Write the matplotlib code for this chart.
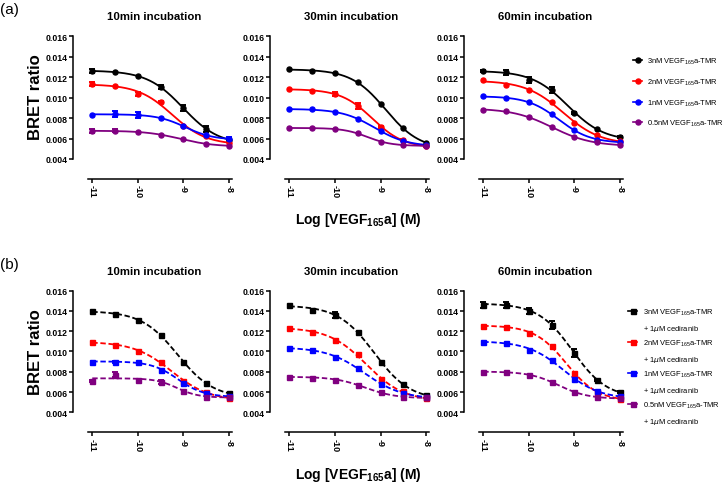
import numpy as np
import matplotlib
matplotlib.use('Agg')
import matplotlib.pyplot as plt
from matplotlib.lines import Line2D

plt.rcParams['font.family'] = ['Liberation Sans', 'DejaVu Sans']
plt.rcParams['mathtext.fontset'] = 'custom'
plt.rcParams['mathtext.rm'] = 'Liberation Sans'
plt.rcParams['mathtext.bf'] = 'Liberation Sans:bold'

W, H = 727, 485

log_conc = np.array([-11, -10.5, -10, -9.5, -9, -8.5, -8])
titles = ['10min incubation', '30min incubation', '60min incubation']
colors = ['black', '#ff0000', '#0000ff', '#800080']
tracer = ['3nM', '2nM', '1nM', '0.5nM']

# (a) tracer alone; rows: 3nM, 2nM, 1nM, 0.5nM
a10 = [[0.01264, 0.01248, 0.01209, 0.01101, 0.00899, 0.00693, 0.00589],
       [0.01134, 0.01111, 0.01036, 0.00954, 0.00720, 0.00622, 0.00557],
       [0.00830, 0.00840, 0.00834, 0.00798, 0.00720, 0.00635, 0.00596],
       [0.00674, 0.00677, 0.00661, 0.00638, 0.00592, 0.00547, 0.00530]]
a30 = [[0.01277, 0.01261, 0.01238, 0.01150, 0.00938, 0.00703, 0.00557],
       [0.01082, 0.01068, 0.01036, 0.00922, 0.00716, 0.00586, 0.00524],
       [0.00886, 0.00886, 0.00857, 0.00791, 0.00677, 0.00573, 0.00540],
       [0.00707, 0.00700, 0.00690, 0.00651, 0.00570, 0.00537, 0.00530]]
a60 = [[0.01260, 0.01246, 0.01174, 0.01079, 0.00853, 0.00689, 0.00614],
       [0.01171, 0.01125, 0.01072, 0.00961, 0.00754, 0.00630, 0.00574],
       [0.01016, 0.00993, 0.00954, 0.00836, 0.00682, 0.00590, 0.00567],
       [0.00882, 0.00866, 0.00807, 0.00711, 0.00616, 0.00564, 0.00534]]
a10_err = [[0.0002, 0, 0, 0.0002, 0.0003, 0.0003, 0],
           [0.0002, 0, 0.00015, 0.0001, 0, 0, 0],
           [0, 0.0003, 0.0003, 0, 0, 0, 0.00015],
           [0.00015, 0.00015, 0, 0, 0, 0, 0]]
a30_err = [[0, 0, 0, 0, 0, 0, 0],
           [0, 0, 0.0002, 0.0003, 0.0001, 0.0001, 0.0001],
           [0, 0, 0, 0, 0, 0, 0],
           [0, 0, 0, 0, 0, 0, 0]]
a60_err = [[0.0001, 0.0002, 0.0003, 0.0003, 0.0001, 0, 0.0001],
           [0, 0, 0, 0, 0, 0, 0],
           [0, 0, 0, 0, 0, 0, 0],
           [0, 0, 0, 0, 0, 0, 0]]

# (b) tracer + 1uM cediranib
b10 = [[0.01396, 0.01367, 0.01314, 0.01163, 0.00893, 0.00689, 0.00587],
       [0.01090, 0.01067, 0.01008, 0.00893, 0.00712, 0.00601, 0.00538],
       [0.00900, 0.00893, 0.00900, 0.00821, 0.00693, 0.00587, 0.00558],
       [0.00706, 0.00772, 0.00722, 0.00702, 0.00614, 0.00555, 0.00548]]
b30 = [[0.01456, 0.01414, 0.01358, 0.01194, 0.00897, 0.00678, 0.00570],
       [0.01234, 0.01191, 0.01109, 0.00972, 0.00727, 0.00606, 0.00537],
       [0.01031, 0.01015, 0.00949, 0.00835, 0.00684, 0.00586, 0.00554],
       [0.00753, 0.00743, 0.00720, 0.00671, 0.00596, 0.00547, 0.00547]]
b60 = [[0.01462, 0.01462, 0.01403, 0.01265, 0.00982, 0.00719, 0.00597],
       [0.01255, 0.01245, 0.01182, 0.01051, 0.00788, 0.00604, 0.00532],
       [0.01094, 0.01087, 0.01015, 0.00920, 0.00729, 0.00607, 0.00558],
       [0.00798, 0.00798, 0.00771, 0.00696, 0.00604, 0.00548, 0.00538]]
b10_err = [[0, 0, 0, 0, 0, 0, 0],
           [0, 0, 0, 0, 0, 0, 0],
           [0, 0.0001, 0, 0, 0, 0, 0],
           [0.0001, 0.00025, 0, 0.0002, 0, 0, 0]]
b30_err = [[0, 0, 0.0003, 0, 0, 0, 0],
           [0, 0, 0, 0, 0, 0, 0],
           [0, 0, 0, 0, 0, 0, 0],
           [0, 0, 0, 0, 0, 0, 0]]
b60_err = [[0.0003, 0.0003, 0.0003, 0.0004, 0.0004, 0.0001, 0.0001],
           [0, 0, 0, 0, 0, 0, 0],
           [0, 0, 0, 0, 0, 0, 0],
           [0, 0, 0, 0, 0, 0, 0]]


def fit_logistic(x, y):
    # 4-parameter logistic, grid over logEC50 / hill, linear LS for top & bottom
    ecs = np.arange(-11.5, -7.5, 0.01)
    hills = np.arange(0.5, 2.01, 0.05)
    E, Hh = np.meshgrid(ecs, hills)
    E, Hh = E.ravel()[:, None], Hh.ravel()[:, None]
    s = 1 / (1 + 10 ** ((x[None, :] - E) * Hh))
    sm, ym = s.mean(1, keepdims=True), y.mean()
    slope = ((s - sm) * (y - ym)).sum(1) / ((s - sm) ** 2).sum(1)
    icpt = ym - slope * sm[:, 0]
    pred = icpt[:, None] + slope[:, None] * s
    k = np.argmin(((pred - y) ** 2).sum(1))
    return icpt[k], icpt[k] + slope[k], E[k, 0], Hh[k, 0]


def px_rect(left, top, width, height):
    return [left / W, 1 - (top + height) / H, width / W, height / H]


fig = plt.figure(figsize=(W / 100, H / 100), dpi=100)

lefts = [87.7, 284.8, 478.7]
rows = [(37.3, 122.7, a10, a30, a60, a10_err, a30_err, a60_err, 'o', '-'),
        (291.7, 121.6, b10, b30, b60, b10_err, b30_err, b60_err, 's', '--')]
xs = np.linspace(-11, -8, 200)
yt = np.arange(0.004, 0.0161, 0.002)

for r, (top, height, d1, d2, d3, e1, e2, e3, mk, ls) in enumerate(rows):
    for j, (data, errs) in enumerate(zip([d1, d2, d3], [e1, e2, e3])):
        ax = fig.add_axes(px_rect(lefts[j], top, 144.5, height))
        for c, yv, ev in zip(colors, data, errs):
            yv = np.array(yv)
            ev = np.array(ev, dtype=float)
            ev[ev == 0] = np.nan
            b, t, ec, hl = fit_logistic(log_conc, yv)
            ax.plot(xs, b + (t - b) / (1 + 10 ** ((xs - ec) * hl)), color=c,
                    lw=1.3, ls=ls, dashes=(3, 1.5) if ls == '--' else (None, None),
                    clip_on=False)
            ax.errorbar(log_conc, yv, yerr=ev, fmt=mk, color=c, ms=3.6,
                        elinewidth=1.4, capsize=2.2, capthick=1.4, clip_on=False)
        for sp in ['top', 'right']:
            ax.spines[sp].set_visible(False)
        ax.spines['left'].set_position(('outward', 10.8))
        ax.spines['bottom'].set_position(('outward', 14.4))
        for sp in ['left', 'bottom']:
            ax.spines[sp].set_linewidth(1.1)
        ax.set_xlim(-11.1, -7.93)
        ax.set_ylim(0.004, 0.016)
        ax.set_xticks([-11, -10, -9, -8])
        ax.set_xticklabels(['-11', '-10', '-9', '-8'], fontsize=6.5,
                           fontweight='bold', rotation=-90)
        ax.set_yticks(yt)
        ax.set_yticklabels(['%.3f' % v for v in yt], fontsize=6.3, fontweight='bold')
        ax.tick_params(width=1.1, length=2.8, pad=1)
        fig.text((lefts[j] + 66) / W, 1 - (top - 20) / H, titles[j],
                 ha='center', va='center', fontsize=8.2, fontweight='bold')
        if j == 2:
            handles, labels = [], []
            for c, tr in zip(colors, tracer):
                h = Line2D([0], [0], color=c, marker=mk, ms=3.6, lw=1.2)
                if r == 0:
                    handles.append(h)
                    labels.append(tr + ' VEGF$_{165}$a-TMR')
                else:
                    handles += [h, Line2D([], [], ls='none')]
                    labels += [tr + ' VEGF$_{165}$a-TMR', '+ 1$\\mu$M cediranib']
            if r == 0:
                fig.legend(handles, labels, loc='upper left',
                           bbox_to_anchor=(633 / W, 1 - 57 / H), frameon=False,
                           fontsize=5.4, handlelength=1.2, handletextpad=0.65,
                           borderpad=0, borderaxespad=0, labelspacing=1.4)
            else:
                fig.legend(handles, labels, loc='upper left',
                           bbox_to_anchor=(628 / W, 1 - 308 / H), frameon=False,
                           fontsize=5.4, handlelength=1.2, handletextpad=0.75,
                           borderpad=0, borderaxespad=0, labelspacing=0.72)

    fig.text(35 / W, 1 - (top + 60) / H, 'BRET ratio', rotation=90, ha='center',
             va='center', fontsize=12, fontweight='bold')
    fig.text(358 / W, 1 - (top + 183) / H, 'Log [VEGF$_{\\mathbf{165}}$a] (M)',
             ha='center', va='center', fontsize=10, fontweight='bold')
    fig.text(9 / W, 1 - (top - 27) / H, '(a)' if r == 0 else '(b)',
             ha='center', va='center', fontsize=11)

fig.savefig('out.png', dpi=100)
